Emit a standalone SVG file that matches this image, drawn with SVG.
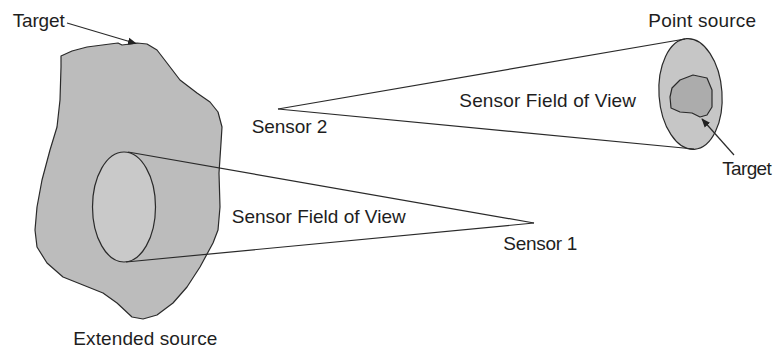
<svg xmlns="http://www.w3.org/2000/svg" width="778" height="349" viewBox="0 0 778 349">
<defs>
<style>
.lbl{font-family:"Liberation Sans",Arial,sans-serif;font-size:19px;fill:#1e1e1e}
.ln{stroke:#2a2a2a;stroke-width:1.2;fill:none}
.sh{stroke:#2a2a2a;stroke-width:1.2;stroke-linejoin:round}
</style>
<marker id="ah" viewBox="0 0 10 10" refX="9" refY="5" markerWidth="9" markerHeight="9" markerUnits="userSpaceOnUse" orient="auto">
<path d="M0,1 L10,5 L0,9 Z" fill="#222"/>
</marker>
</defs>
<rect width="778" height="349" fill="#ffffff"/>
<g id="extended-source">
<path class="sh" fill="#bcbcbc" d="M61,56 L72,51 L87,47 L110,44 L118,43 L122,45 L130,44 L137,43 L147,44 L157,50 L167,63 L180,80 L197,93 L210,102 L218,112 L222,127 L221,143 L219,173 L220,207 L218,230 L213,243 L200,267 L187,287 L173,303 L157,315 L143,319 L132,317 L117,303 L103,293 L83,285 L63,277 L47,263 L37,247 L35,230 L37,207 L42,180 L50,150 L57,127 L60,100 L61,67 Z"/>
<ellipse class="sh" fill="#c9c9c9" cx="124" cy="207" rx="31.5" ry="55"/>
</g>
<g id="point-source">
<ellipse class="sh" fill="#c6c6c6" cx="690.5" cy="94" rx="31.5" ry="55.5" transform="rotate(-4 690.5 94)"/>
<path class="sh" fill="#acacac" d="M672,88 L680,80 L693,75 L707,78 L712,90 L712,107 L707,115 L700,117 L692,113 L680,112 L671,108 L670,97 Z"/>
</g>
<g id="connectors">
<line class="ln" x1="128" y1="152" x2="534" y2="223"/>
<line class="ln" x1="126" y1="262" x2="534" y2="223"/>
<line class="ln" x1="278" y1="109" x2="685" y2="39"/>
<line class="ln" x1="278" y1="109" x2="694" y2="149"/>
<line class="ln" x1="67" y1="23" x2="136" y2="43.5" marker-end="url(#ah)"/>
<line class="ln" x1="734" y1="155" x2="702" y2="119" marker-end="url(#ah)"/>
</g>
<g id="labels">
<text class="lbl" x="12.7" y="27" textLength="52">Target</text>
<text class="lbl" x="251.7" y="133.3" textLength="75.6">Sensor 2</text>
<text class="lbl" x="459.3" y="107.3" textLength="176.7">Sensor Field of View</text>
<text class="lbl" x="231.7" y="222.7" textLength="174">Sensor Field of View</text>
<text class="lbl" x="503.3" y="250" textLength="74">Sensor 1</text>
<text class="lbl" x="73.3" y="345" textLength="144">Extended source</text>
<text class="lbl" x="648.3" y="26.7" textLength="107.7">Point source</text>
<text class="lbl" x="722.3" y="175" textLength="49.4">Target</text>
</g>
</svg>
